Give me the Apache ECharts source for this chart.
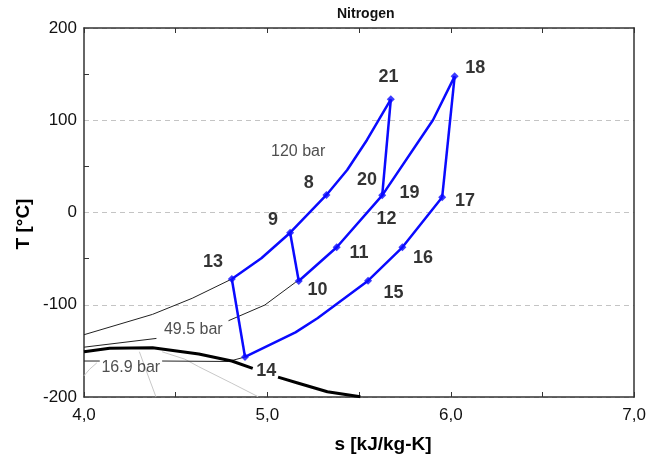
<!DOCTYPE html>
<html>
<head>
<meta charset="utf-8">
<script src="https://cdn.jsdelivr.net/npm/echarts@6/dist/echarts.min.js"></script>
<style>html,body{margin:0;padding:0;background:#fff}#c{width:649px;height:459px}</style>
</head>
<body>
<div id="c"></div>
<script>
// ---- data (s [kJ/kg-K], T [°C]) ----
const iso120Cycle = [[4.806,-72.1],[4.967,-49.6],[5.124,-21.9],[5.322,19.0],[5.435,46.1],[5.543,78.6],[5.673,122.7]];
const iso495Cycle = [[5.171,-74.3],[5.378,-37.7],[5.626,18.6],[5.903,100.3],[6.021,147.6]];
const iso169Cycle = [[4.878,-156.6],[5.153,-129.9],[5.273,-114.7],[5.549,-73.9],[5.736,-37.7],[5.953,16.5]];
const step13to14 = [[4.806,-72.1],[4.878,-156.6]];
const step9to10  = [[5.124,-21.9],[5.171,-74.3]];
const step20to21 = [[5.626,18.6],[5.673,122.7]];
const step17to18 = [[5.953,16.5],[6.021,147.6]];
const statePoints = [[5.322,19.0],[5.124,-21.9],[5.171,-74.3],[5.378,-37.7],[4.806,-72.1],[4.878,-156.6],[5.549,-73.9],[5.736,-37.7],[5.953,16.5],[6.021,147.6],[5.626,18.6],[5.673,122.7]];
const stateLabels = [
  [5.660,147.2,'21'],[6.134,156.3,'18'],[5.543,35.2,'20'],[5.775,20.8,'19'],[6.077,12.7,'17'],
  [5.650,-7.0,'12'],[5.226,31.7,'8'],[5.031,-8.1,'9'],[4.704,-53.3,'13'],[5.273,-84.0,'10'],
  [5.500,-44.4,'11'],[5.849,-49.6,'16'],[5.687,-87.6,'15'],[4.994,-171.6,'14']
];
const isobarLabels = [[5.168,65.6,'120 bar'],[4.596,-127.4,'49.5 bar'],[4.255,-168.6,'16.9 bar']];
const iso120Ext = [[4.0,-132.5],[4.374,-110.4],[4.590,-93.0],[4.806,-72.1]];
const iso495ExtA = [[4.0,-146.0],[4.395,-136.5]];
const iso495ExtB = [[4.788,-117.3],[4.986,-100.3],[5.153,-75.7],[5.171,-74.3]];
const iso169ExtA = [[4.0,-161.0],[4.086,-161.0]];
const iso169ExtB = [[4.426,-161.0],[4.788,-161.5],[4.878,-156.6]];
const satDomeA = [[4.0,-150.9],[4.140,-147.2],[4.374,-146.6],[4.626,-153.4],[4.806,-161.0],[4.920,-169.0]];
const satDomeB = [[5.058,-178.5],[5.165,-184.8],[5.327,-194.3],[5.507,-199.7]];
const qualA = [[4.302,-150.9],[4.338,-170.7],[4.392,-199.7]];
const qualB = [[4.426,-151.0],[4.550,-159.0],[4.626,-167.2],[4.806,-185.1],[4.950,-199.7]];
const qualC = [[4.0,-177.0],[4.03,-170.0],[4.07,-163.0]];
const xTicks = {min:4, max:7, step:1};
const yTicks = {min:-200, max:200, step:100};
const yMinorTicks = [-150,-50,50,150];

const FONT = 'Liberation Sans, Arial, sans-serif';
const chart = echarts.init(document.getElementById('c'), null, {renderer:'canvas'});

function line(data, color, width, z){
  return {type:'line', data:data, symbol:'none', silent:true, animation:false, z:z||2,
    lineStyle:{color:color, width:width}, xAxisIndex:0, yAxisIndex:0};
}
const blue = '#0a0aff';
const axisLineStyle = {show:true, onZero:false, lineStyle:{color:'#333', width:1.5}};

const option = {
  backgroundColor:'#fff',
  animation:false,
  textStyle:{fontFamily:FONT},
  grid:{left:84, right:10, top:28, bottom:62, show:false},
  xAxis:[
    {type:'value', min:xTicks.min, max:xTicks.max, interval:xTicks.step, position:'bottom',
     axisLine:axisLineStyle,
     axisTick:{show:true, inside:true, length:5, lineStyle:{color:'#333'}},
     minorTick:{show:true, splitNumber:2, length:5, lineStyle:{color:'#333'}},
     axisLabel:{formatter:v=>v.toFixed(1).replace('.',','), fontSize:17, color:'#111', margin:10, fontFamily:FONT},
     splitLine:{show:false}},
    {type:'value', min:xTicks.min, max:xTicks.max, interval:xTicks.step, position:'top',
     axisLine:axisLineStyle,
     axisTick:{show:true, inside:true, length:5, lineStyle:{color:'#333'}},
     minorTick:{show:true, splitNumber:2, length:5, lineStyle:{color:'#333'}},
     axisLabel:{show:false}, splitLine:{show:false}}
  ],
  yAxis:[
    {type:'value', min:yTicks.min, max:yTicks.max, interval:yTicks.step, position:'left',
     axisLine:axisLineStyle,
     axisTick:{show:true, inside:true, length:5, customValues:yMinorTicks, lineStyle:{color:'#333'}},
     axisLabel:{fontSize:17, color:'#111', margin:7, fontFamily:FONT},
     splitLine:{show:false}},
    {type:'value', min:yTicks.min, max:yTicks.max, interval:yTicks.step, position:'right',
     axisLine:axisLineStyle, axisTick:{show:false}, axisLabel:{show:false},
     splitLine:{show:true, lineStyle:{type:[5,4], color:'#c4c4c4', width:1}}}
  ],
  series:[
    line(qualA,'#c8c8c8',1,1), line(qualB,'#c8c8c8',1,1), line(qualC,'#c8c8c8',1,1),
    line(iso120Ext,'#222',1,2), line(iso495ExtA,'#222',1,2), line(iso495ExtB,'#222',1,2),
    line(iso169ExtA,'#222',1,2), line(iso169ExtB,'#222',1,2),
    line(satDomeA,'#000',3,3), line(satDomeB,'#000',3,3),
    line(iso120Cycle,blue,2.5,5), line(iso495Cycle,blue,2.5,5), line(iso169Cycle,blue,2.5,5),
    line(step13to14,blue,2.5,5), line(step9to10,blue,2.5,5), line(step20to21,blue,2.5,5), line(step17to18,blue,2.5,5),
    {type:'scatter', data:statePoints, symbol:'diamond', symbolSize:8, itemStyle:{color:blue}, z:6, silent:true},
    {type:'scatter', data:stateLabels, symbolSize:0.1, itemStyle:{color:'rgba(0,0,0,0)'}, z:7, silent:true,
     label:{show:true, position:'inside', formatter:p=>p.data[2], fontSize:18, fontWeight:'bold', color:'#000', fontFamily:FONT}},
    {type:'scatter', data:isobarLabels, symbolSize:0.1, itemStyle:{color:'rgba(0,0,0,0)'}, z:7, silent:true,
     label:{show:true, position:'inside', formatter:p=>p.data[2], fontSize:16, color:'#222', fontFamily:FONT}}
  ],
  graphic:[
    {type:'text', left:337, top:7, style:{text:'Nitrogen', font:'bold 14px '+FONT, fill:'#111'}},
    {type:'text', x:383, y:445, style:{text:'s [kJ/kg-K]', font:'bold 19px '+FONT, fill:'#000', textAlign:'center', textVerticalAlign:'middle'}},
    {type:'text', x:24, y:224, rotation:Math.PI/2, style:{text:'T [°C]', font:'bold 19px '+FONT, fill:'#000', textAlign:'center', textVerticalAlign:'middle'}}
  ]
};
chart.setOption(option);
</script>
</body>
</html>
